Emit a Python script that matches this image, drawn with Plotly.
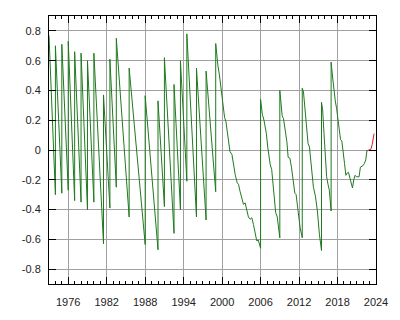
import plotly.graph_objects as go

# Observed DUT1 (UT1-UTC, seconds); leap seconds appear as vertical jumps
obs_years = [
    1973.0, 1974.0, 1974.0, 1975.0, 1975.0, 1976.0, 1976.0, 1977.0, 1977.0, 1978.0,
    1978.0, 1979.0, 1979.0, 1980.0, 1980.0, 1981.5, 1981.5, 1982.5, 1982.5, 1983.5,
    1983.5, 1985.5, 1985.5, 1988.0, 1988.0, 1990.0, 1990.0, 1991.0, 1991.0, 1992.5,
    1992.5, 1993.5, 1993.5, 1994.5, 1994.5, 1996.0, 1996.0, 1997.5, 1997.5, 1999.0,
    1999.0, 1999.24, 1999.35, 1999.56, 1999.98, 2000.38, 2000.6, 2000.91, 2001.22, 2001.53,
    2001.78, 2002.04, 2002.35, 2002.55, 2002.81, 2003.07, 2003.33, 2003.59, 2003.85, 2004.1,
    2004.37, 2004.63, 2004.88, 2005.14, 2005.4, 2005.65, 2006.0,
    2006.0, 2006.27, 2006.53, 2006.69, 2006.9, 2007.11, 2007.31, 2007.51, 2007.73, 2007.93,
    2008.13, 2008.35, 2008.6, 2009.0,
    2009.0, 2009.17, 2009.37, 2009.58, 2009.79, 2010.1, 2010.3, 2010.57, 2010.83, 2011.14,
    2011.34, 2011.54, 2011.76, 2011.96, 2012.16, 2012.5,
    2012.5, 2012.69, 2012.79, 2013.2, 2013.4, 2013.62, 2013.93, 2014.24, 2014.55, 2014.86,
    2015.17, 2015.5,
    2015.5, 2015.68, 2015.89, 2016.1, 2016.3, 2016.51, 2016.72, 2017.0,
    2017.0, 2017.23, 2017.43, 2017.65, 2017.85, 2018.05, 2018.26, 2018.47, 2018.67, 2018.88,
    2019.09, 2019.3, 2019.5, 2019.71, 2019.92, 2020.12, 2020.33, 2020.53, 2020.74, 2020.95,
    2021.16, 2021.36, 2021.57, 2021.78, 2021.98, 2022.19, 2022.4, 2022.6,
]
obs_dut1 = [
    0.77, -0.30, 0.70, -0.29, 0.71, -0.27, 0.73, -0.34, 0.66, -0.35,
    0.65, -0.40, 0.60, -0.35, 0.65, -0.63, 0.37, -0.39, 0.61, -0.25,
    0.75, -0.45, 0.55, -0.635, 0.365, -0.67, 0.33, -0.38, 0.62, -0.56,
    0.44, -0.40, 0.60, -0.21, 0.78, -0.45, 0.55, -0.47, 0.53, -0.28,
    0.715, 0.60, 0.565, 0.51, 0.365, 0.22, 0.19, 0.10, -0.01, -0.03,
    -0.10, -0.165, -0.22, -0.23, -0.28, -0.32, -0.365, -0.355, -0.40, -0.45,
    -0.465, -0.455, -0.50, -0.565, -0.61, -0.605, -0.66,
    0.34, 0.24, 0.20, 0.17, 0.11, 0.02, -0.04, -0.10, -0.13, -0.24,
    -0.33, -0.42, -0.45, -0.59,
    0.40, 0.30, 0.23, 0.21, 0.145, 0.055, -0.05, -0.055, -0.12, -0.21,
    -0.29, -0.30, -0.375, -0.45, -0.52, -0.59,
    0.415, 0.39, 0.34, 0.09, 0.045, 0.02, -0.10, -0.25, -0.31, -0.41,
    -0.565, -0.675,
    0.32, 0.27, 0.11, -0.02, -0.18, -0.23, -0.27, -0.41,
    0.59, 0.49, 0.39, 0.33, 0.28, 0.20, 0.12, 0.07, 0.06, 0.00,
    -0.09, -0.17, -0.155, -0.15, -0.18, -0.21, -0.255, -0.20, -0.17, -0.18,
    -0.18, -0.18, -0.115, -0.11, -0.105, -0.09, -0.066, 0.00,
]

# Predicted part (red)
pred_years = [2022.6, 2022.8, 2023.2, 2023.4, 2023.7]
pred_dut1 = [-0.005, 0.0, 0.005, 0.035, 0.11]

x_range = [1973, 2024]
y_range = [-0.9, 0.9]
y_tickvals = [-0.8, -0.6, -0.4, -0.2, 0, 0.2, 0.4, 0.6, 0.8]
y_ticktext = ["-0.8", "-0.6", "-0.4", "-0.2", "0", "0.2", "0.4", "0.6", "0.8"]

fig = go.Figure()
fig.add_trace(go.Scatter(x=obs_years, y=obs_dut1, mode="lines",
                         line=dict(color="#1f7a1f", width=1), showlegend=False))
fig.add_trace(go.Scatter(x=pred_years, y=pred_dut1, mode="lines",
                         line=dict(color="#e01b24", width=1), showlegend=False))

font = dict(family="Liberation Sans, Arial, sans-serif", size=11, color="#222222")
fig.update_layout(
    width=400, height=320,
    margin=dict(l=49, r=23, t=16, b=33),
    paper_bgcolor="white", plot_bgcolor="white",
    font=font,
)
fig.update_xaxes(
    range=x_range, tickmode="linear", tick0=1976, dtick=6,
    ticks="inside", ticklen=7, tickcolor="#000", tickwidth=1,
    showline=True, linecolor="#000", linewidth=1, mirror="ticks",
    showgrid=True, gridcolor="#a0a0a0", gridwidth=1, zeroline=False,
    minor=dict(dtick=1, ticks="inside", ticklen=3, tickcolor="#000", showgrid=False),
    ticklabelstandoff=8, tickfont=font,
)
fig.update_yaxes(
    range=y_range, tickmode="array", tickvals=y_tickvals, ticktext=y_ticktext,
    ticks="inside", ticklen=7, tickcolor="#000", tickwidth=1,
    showline=True, linecolor="#000", linewidth=1, mirror="ticks",
    showgrid=True, gridcolor="#a0a0a0", gridwidth=1, zeroline=False,
    ticklabelstandoff=5, tickfont=font,
)
fig.write_html("out.html")
